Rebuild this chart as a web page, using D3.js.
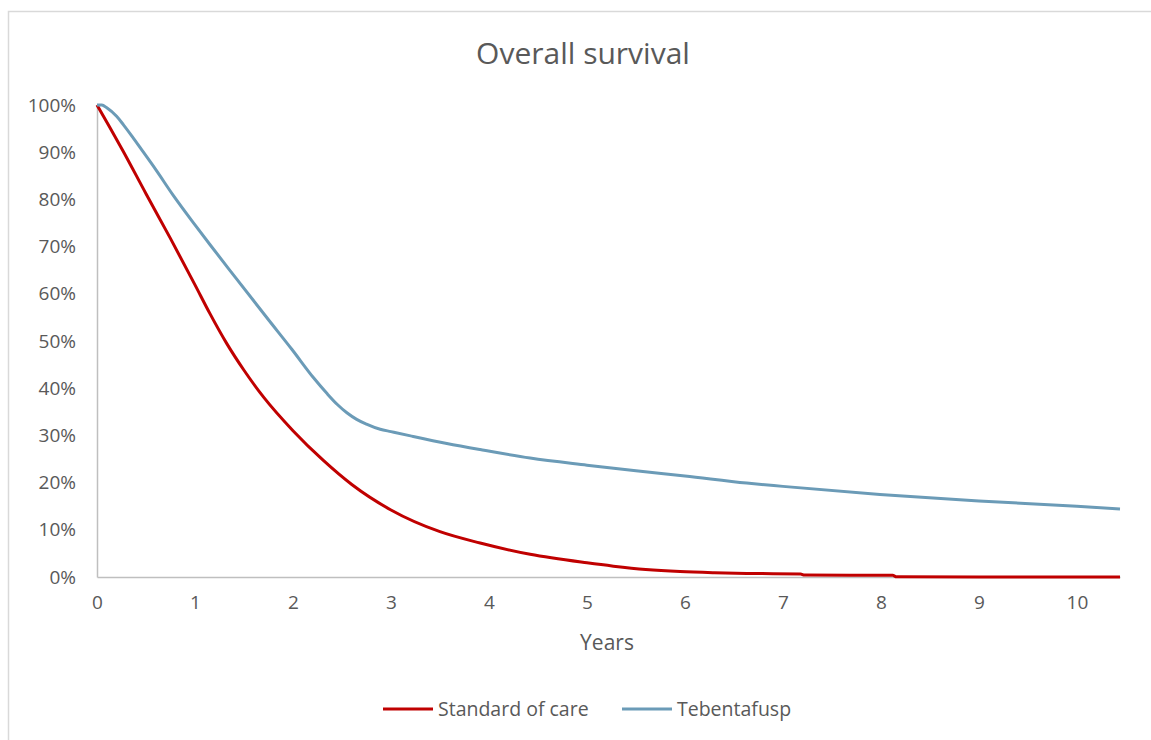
<!DOCTYPE html>
<html>
<head>
<meta charset="utf-8">
<script src="https://cdn.jsdelivr.net/npm/d3@7"></script>
<style>
    html, body { margin: 0; padding: 0; background: #fff; }
    svg { display: block; font-family: "Open Sans", "Noto Sans", sans-serif; }
</style>
</head>
<body>
<div id="chart"></div>
<script>
// Values (years, % surviving)
const title = "Overall survival";
const xLabel = "Years";
const seriesNames = ["Standard of care", "Tebentafusp"];
const seriesColors = ["#C00000", "#6B9BB7"];

const xTicks = [0, 1, 2, 3, 4, 5, 6, 7, 8, 9, 10];
const yTicks = [0, 10, 20, 30, 40, 50, 60, 70, 80, 90, 100];

const standardOfCare = [
    [0, 100], [0.13, 95.3], [0.27, 90.1], [0.5, 81.2], [0.745, 71.9], [1.0, 61.9],
    [1.15, 55.9], [1.32, 49.6], [1.5, 43.8], [1.7, 38.1], [2.0, 31.0], [2.31, 24.7],
    [2.6, 19.6], [3.0, 14.2], [3.5, 9.6], [3.91, 7.2], [4.42, 4.8], [5.0, 3.0],
    [5.27, 2.3], [5.6, 1.6], [5.95, 1.15], [6.3, 0.9], [6.63, 0.75], [7.18, 0.65],
    [7.22, 0.4], [8.12, 0.35], [8.16, 0.05], [9.0, 0.02], [10.44, 0.0]
];

const tebentafusp = [
    [0, 100], [0.05, 100], [0.1, 99.4], [0.2, 97.6], [0.27, 95.8], [0.36, 93.3],
    [0.47, 90.1], [0.6, 86.3], [0.78, 80.8], [1.0, 74.6], [1.15, 70.5], [1.4, 63.8],
    [1.75, 54.5], [1.99, 48.2], [2.21, 42.2], [2.35, 38.8], [2.45, 36.6], [2.55, 34.8],
    [2.65, 33.4], [2.75, 32.4], [2.89, 31.3], [3.0, 30.8], [3.2, 29.9], [3.57, 28.3],
    [3.91, 27.0], [4.42, 25.2], [5.0, 23.7], [5.5, 22.5], [6.0, 21.4], [6.63, 19.9],
    [7.0, 19.2], [7.99, 17.5], [9.0, 16.1], [10.0, 15.0], [10.44, 14.4]
];

const seriesData = [standardOfCare, tebentafusp];

// dimensions
const width = 1151, height = 740;
const plot = { left: 97, right: 1120, top: 105, bottom: 577 };

const svg = d3.select("#chart")
    .append("svg")
    .attr("width", width)
    .attr("height", height);

// chart frame (only the top and left edges are inside the window)
svg.append("rect")
    .attr("x", 8.5).attr("y", 11.5)
    .attr("width", 1300).attr("height", 900)
    .attr("fill", "none")
    .attr("stroke", "#D9D9D9")
    .attr("stroke-width", 1.5);

const x = d3.scaleLinear()
    .domain([0, 10.44])
    .range([plot.left, plot.right]);

const y = d3.scaleLinear()
    .domain([0, 100])
    .range([plot.bottom, plot.top]);

// title
svg.append("text")
    .attr("x", 583)
    .attr("y", 64)
    .attr("text-anchor", "middle")
    .attr("fill", "#595959")
    .style("font-size", "30px")
    .text(title);

// y axis
const yAxis = svg.append("g")
    .attr("transform", `translate(${plot.left},0)`)
    .call(d3.axisLeft(y).tickValues(yTicks).tickSize(0).tickPadding(21).tickFormat(d => d + "%"));
yAxis.select(".domain").attr("stroke", "#BFBFBF").attr("stroke-width", 1.5);
yAxis.selectAll("text")
    .attr("fill", "#595959")
    .style("font-size", "19px")
    .style("font-family", "'Open Sans', sans-serif");

// x axis
const xAxis = svg.append("g")
    .attr("transform", `translate(0,${plot.bottom})`)
    .call(d3.axisBottom(x).tickValues(xTicks).tickSize(0).tickPadding(19).tickFormat(d3.format("d")));
xAxis.select(".domain").attr("stroke", "#BFBFBF").attr("stroke-width", 1.5);
xAxis.selectAll("text")
    .attr("fill", "#595959")
    .style("font-size", "19px")
    .style("font-family", "'Open Sans', sans-serif");

// x axis title
svg.append("text")
    .attr("x", 607)
    .attr("y", 650)
    .attr("text-anchor", "middle")
    .attr("fill", "#595959")
    .style("font-size", "21px")
    .text(xLabel);

// survival curves
const line = d3.line()
    .x(d => x(d[0]))
    .y(d => y(d[1]))
    .curve(d3.curveMonotoneX);

svg.append("g")
    .selectAll("path")
    .data(seriesData)
    .enter()
    .append("path")
    .attr("d", line)
    .attr("fill", "none")
    .attr("stroke", (d, i) => seriesColors[i])
    .attr("stroke-width", 3)
    .attr("stroke-linejoin", "round");

// legend
const legendPos = [{ x: 383, textX: 438 }, { x: 622, textX: 677 }];
const legendY = 709;

const legend = svg.append("g")
    .selectAll("g")
    .data(seriesNames)
    .enter()
    .append("g");

legend.append("line")
    .attr("x1", (d, i) => legendPos[i].x)
    .attr("x2", (d, i) => legendPos[i].x + 50)
    .attr("y1", legendY)
    .attr("y2", legendY)
    .attr("stroke", (d, i) => seriesColors[i])
    .attr("stroke-width", 3);

legend.append("text")
    .attr("x", (d, i) => legendPos[i].textX)
    .attr("y", legendY + 7)
    .attr("fill", "#595959")
    .style("font-size", "19.5px")
    .text(d => d);
</script>
</body>
</html>
